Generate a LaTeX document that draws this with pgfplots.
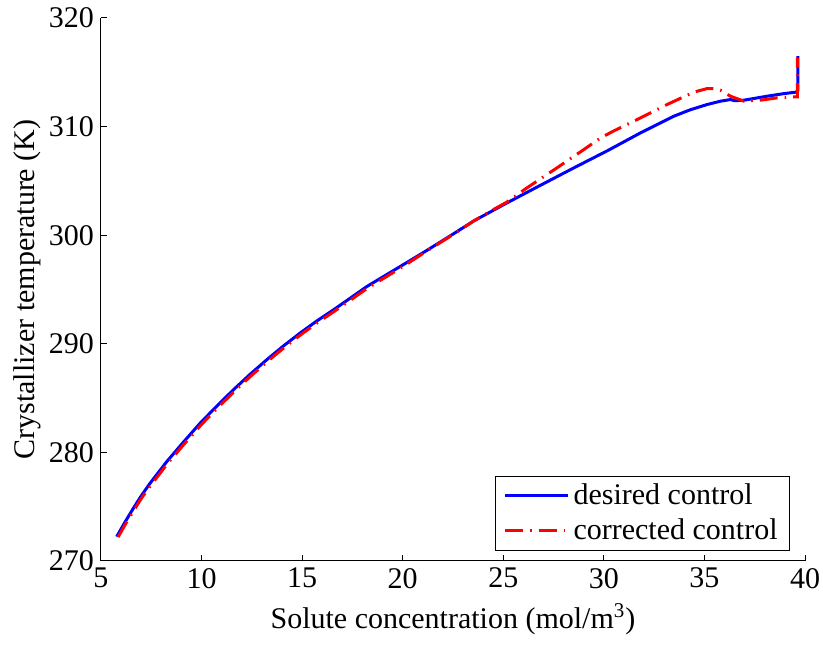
\documentclass[border=0pt]{standalone}
\usepackage{fontspec}
\setmainfont{Liberation Serif}
\usepackage{pgfplots}
\pgfplotsset{compat=1.18}
\newcommand{\fs}{\fontsize{15}{17}\selectfont}
\begin{document}
\begin{tikzpicture}
\begin{axis}[
  scale only axis,
  width=352pt, height=271.5pt,
  xmin=5, xmax=40, ymin=270, ymax=320,
  xtick={5,10,...,40}, ytick={270,280,...,320},
  axis x line*=bottom, axis y line*=left,
  axis line style={-, line width=0.5pt},
  tick style={black, line width=0.5pt},
  major tick length=3pt,
  tick align=inside,
  /pgf/number format/assume math mode=true,
  tick label style={font=\fs},
  label style={font=\fs},
  xlabel={Solute concentration (mol/m\textsuperscript{3})},
  ylabel={Crystallizer temperature (K)},
  xlabel style={at={(axis description cs:0.5,-0.124)}, anchor=base},
  ylabel style={at={(axis description cs:-0.105,0.5)}, anchor=center},
  legend style={at={(axis description cs:0.9787,0.0184)}, anchor=south east,
    draw=black, font=\fs, row sep=1.5pt, inner xsep=4pt, inner ysep=2pt},
  legend cell align=left,
  legend image code/.code={\draw[#1] (0pt,0pt) -- (31.5pt,0pt);},
]
\addplot[blue, line width=1.5pt, line join=round] coordinates {
(5.78,272.24) (6.2,273.6) (6.61,274.86) (7.0,276.0) (7.44,277.16)
(8.27,279.15) (9.1,280.95) (9.93,282.69) (10.75,284.25) (11.58,285.76)
(12.4,287.17) (13.24,288.53) (14.07,289.8) (14.90,290.99) (15.73,292.1)
(16.56,293.13) (17.39,294.2) (18.22,295.28) (19.05,296.2) (19.88,297.12)
(21.2,298.6) (22.5,300.1) (23.52,301.3) (25.18,302.97) (26.8,304.55)
(28.5,306.19) (30.2,307.8) (31.82,309.42) (33.47,310.95) (34.3,311.55)
(35.13,312.03) (35.8,312.34) (36.3,312.49) (36.5,312.38) (36.96,312.43)
(38.12,312.8) (39.0,313.05) (39.55,313.17) (39.65,313.3) (39.65,316.48)
};
\addlegendentry{desired control}
\addplot[red, line width=1.5pt, dash pattern=on 9pt off 3.5pt on 0.8pt off 3.5pt] coordinates {
(5.85,272.2) (6.25,273.5) (6.66,274.75) (7.05,275.88) (7.5,277.03)
(8.32,279.0) (9.15,280.8) (9.98,282.54) (10.8,284.1) (11.63,285.62)
(12.45,287.03) (13.29,288.4) (14.12,289.67) (14.95,290.86) (15.78,291.97)
(16.61,293.0) (17.44,294.07) (18.27,295.15) (19.1,296.08) (19.93,297.02)
(21.2,298.55) (22.5,300.05) (23.52,301.3) (24.5,302.35) (25.18,303.05)
(26.17,304.35) (27.66,306.19) (29.0,307.88) (29.83,308.95) (30.49,309.6)
(31.82,310.8) (33.14,312.03) (34.47,313.17) (35.13,313.5) (35.47,313.5)
(35.8,313.35) (36.29,312.8) (36.96,312.34) (37.79,312.43) (38.62,312.65)
(39.55,312.74) (39.62,312.74) (39.62,316.3)
};
\addlegendentry{corrected control}
\coordinate (sw) at (rel axis cs:0,0);
\coordinate (ne) at (rel axis cs:1,1);
\end{axis}
\pgfresetboundingbox
\path[use as bounding box] ([xshift=-50.5pt,yshift=-42.5pt]sw) rectangle ([xshift=9pt,yshift=9pt]ne);
\end{tikzpicture}
\end{document}
